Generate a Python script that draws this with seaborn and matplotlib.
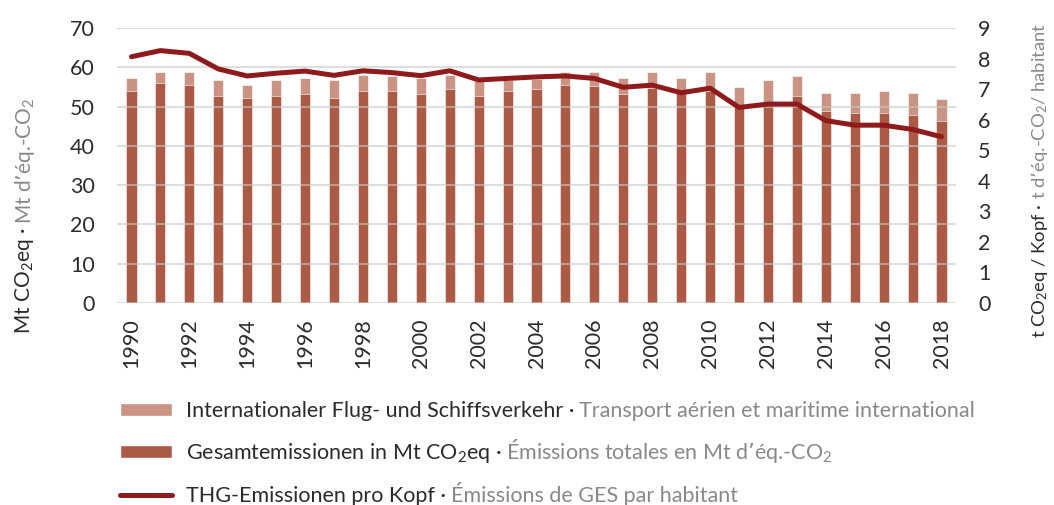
import numpy as np
import matplotlib
matplotlib.use("Agg")
import matplotlib.pyplot as plt
from matplotlib.patches import Patch
from matplotlib.lines import Line2D
import seaborn as sns

# data
years = list(range(1990, 2019))
gesamt = [54.0, 56.1, 55.5, 52.7, 52.2, 52.7, 53.3, 52.2, 54.0, 54.0,
          53.3, 54.5, 52.7, 54.0, 54.5, 55.5, 55.2, 53.3, 54.6, 53.5,
          54.0, 50.0, 50.3, 52.7, 48.9, 48.4, 48.4, 47.9, 46.4]
total_incl_intl = [57.2, 58.9, 58.9, 56.7, 55.6, 56.7, 57.2, 56.7, 58.0, 57.7,
                   57.2, 58.0, 56.4, 56.8, 57.0, 58.9, 58.9, 57.2, 58.9, 57.2,
                   58.9, 55.1, 56.7, 57.8, 53.4, 53.4, 54.0, 53.4, 51.8]
pro_kopf = [8.06, 8.26, 8.17, 7.66, 7.43, 7.52, 7.59, 7.45, 7.60, 7.54,
            7.44, 7.60, 7.30, 7.35, 7.40, 7.43, 7.35, 7.06, 7.13, 6.88,
            7.03, 6.40, 6.51, 6.51, 5.97, 5.82, 5.82, 5.68, 5.44]
left_ticks = list(range(0, 80, 10))
right_ticks = list(range(0, 10))
x_ticks = list(range(1990, 2019, 2))

light = "#C99483"
dark = "#AB5A45"
line_col = "#8E1A1C"
txt_dark = "#2B2B2B"
txt_gray = "#888888"
fs = 15.5

sns.set_style("white")
plt.rcParams["font.family"] = ["Lato", "DejaVu Sans"]
plt.rcParams["font.weight"] = "normal"
plt.rcParams["mathtext.default"] = "regular"
plt.rcParams["font.size"] = fs

fig = plt.figure(figsize=(10.54, 5.05), dpi=100)
ax = fig.add_axes([117 / 1054, 1 - 303 / 505, (956 - 117) / 1054, 275 / 505])

sns.barplot(x=years, y=total_incl_intl, color=light, saturation=1, width=0.35,
            native_scale=True, ax=ax, edgecolor="white", linewidth=0.4)
sns.barplot(x=years, y=gesamt, color=dark, saturation=1, width=0.35,
            native_scale=True, ax=ax, edgecolor="white", linewidth=0.4)

ax.set_xlim(1989.5, 2018.5)
ax.set_ylim(0, 70)
ax.set_yticks(left_ticks)
ax.set_xticks(x_ticks)
ax.set_xticklabels([str(y) for y in x_ticks], rotation=90)
ax.yaxis.grid(True, color="#C8C8C8", linewidth=1.5, alpha=0.6)
ax.set_axisbelow(False)
ax.tick_params(axis="y", length=0, pad=16, labelcolor=txt_dark, labelsize=fs)
ax.tick_params(axis="x", length=0, pad=11, labelcolor=txt_dark, labelsize=fs)
for s in ax.spines.values():
    s.set_visible(False)
ax.set_xlabel("")
ax.set_ylabel("")

ax2 = ax.twinx()
sns.lineplot(x=years, y=pro_kopf, color=line_col, linewidth=3.6, ax=ax2,
             solid_capstyle="round")
ax2.set_ylim(0, 9)
ax2.set_yticks(right_ticks)
ax2.set_xlim(1989.5, 2018.5)
ax2.tick_params(axis="y", length=0, pad=16, labelcolor=txt_dark, labelsize=fs)
for s in ax2.spines.values():
    s.set_visible(False)
ax2.grid(False)
ax2.set_ylabel("")

fig.canvas.draw()
renderer = fig.canvas.get_renderer()
inv = fig.transFigure.inverted()
gap = 5 / 1054


def two_part_vertical(x, y0, first, second, size):
    t1 = fig.text(x, y0, first, rotation=90, ha="center", va="bottom",
                  color=txt_dark, fontsize=size)
    bb = inv.transform(t1.get_window_extent(renderer))
    fig.text(x, bb[1][1] + 4 / 505, second, rotation=90, ha="center",
             va="bottom", color=txt_gray, fontsize=size)


two_part_vertical(25 / 1054, 1 - 334 / 505, "Mt CO$_2$eq ·", "Mt d’éq.-CO$_2$", 15)
two_part_vertical(1040 / 1054, 1 - 338 / 505, "t CO$_2$eq / Kopf ·",
                  "t d’éq.-CO$_2$/ habitant", 13.3)

handles = [Patch(facecolor=light), Patch(facecolor=dark),
           Line2D([0], [0], color=line_col, linewidth=3.6, solid_capstyle="round")]
labels_de = ["Internationaler Flug- und Schiffsverkehr ·",
             "Gesamtemissionen in Mt CO$_2$eq ·",
             "THG-Emissionen pro Kopf ·"]
labels_fr = ["Transport aérien et maritime international",
             "Émissions totales en Mt d’éq.-CO$_2$",
             "Émissions de GES par habitant"]
leg = fig.legend(handles, labels_de, loc="upper left",
                 bbox_to_anchor=(120 / 1054, 1 - 401 / 505), frameon=False,
                 borderpad=0, borderaxespad=0, handlelength=2.4,
                 handleheight=0.56, handletextpad=0.65, labelspacing=0.95,
                 fontsize=fs)
for t in leg.get_texts():
    t.set_color(txt_dark)

fig.canvas.draw()
for t, fr in zip(leg.get_texts(), labels_fr):
    bb = inv.transform(t.get_window_extent(renderer))
    fig.text(bb[1][0] + gap, bb[0][1], fr, ha="left", va="bottom",
             color=txt_gray, fontsize=fs)

fig.savefig("out.png", dpi=100)
